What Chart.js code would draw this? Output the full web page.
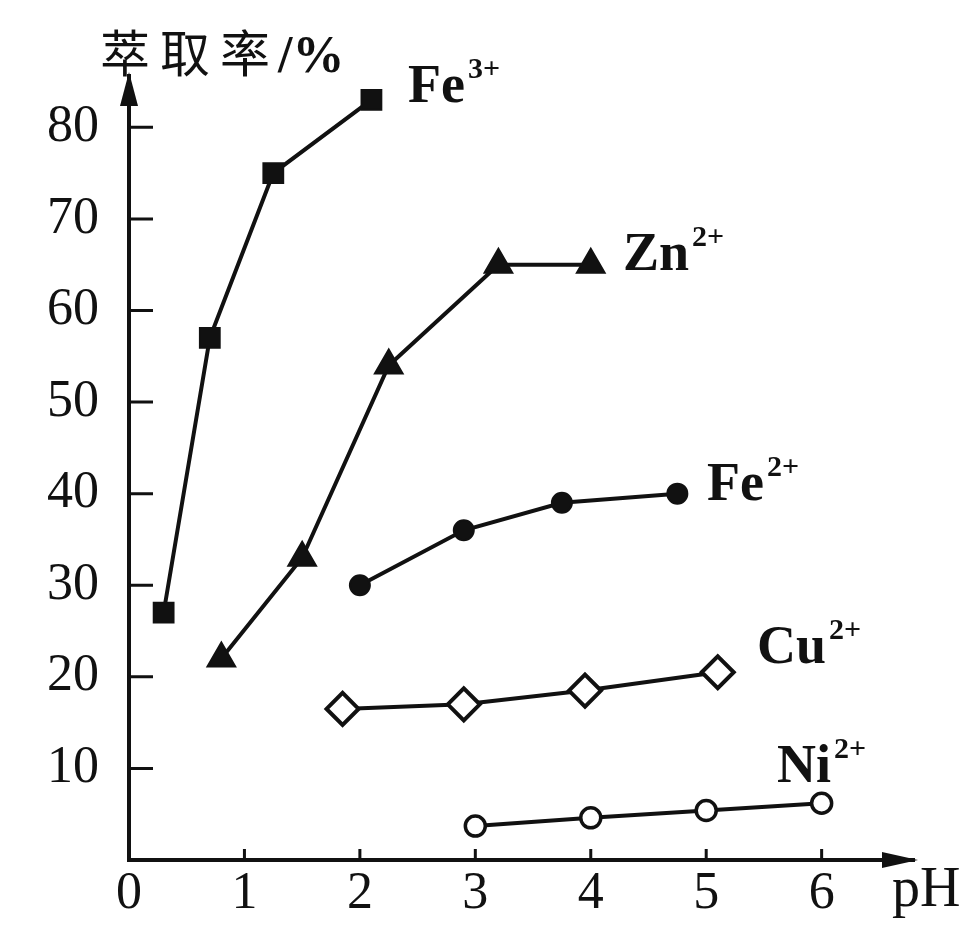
<!DOCTYPE html>
<html>
<head>
<meta charset="utf-8">
<script src="https://cdn.jsdelivr.net/npm/chart.js@4.4.1/dist/chart.umd.min.js"></script>
<style>
  html, body { margin: 0; padding: 0; background: #fff; }
  canvas { display: block; }
</style>
</head>
<body>
<canvas id="chartExtraction" width="970" height="934"></canvas>
<script>
// pH and extraction rate (%) for each ion
const phFe3 = [0.3, 0.7, 1.25, 2.1];
const rateFe3 = [27, 57, 75, 83];
const phZn = [0.8, 1.5, 2.25, 3.2, 4.0];
const rateZn = [22, 33, 54, 65, 65];
const phFe2 = [2.0, 2.9, 3.75, 4.75];
const rateFe2 = [30, 36, 39, 40];
const phCu = [1.85, 2.9, 3.95, 5.1];
const rateCu = [16.5, 17, 18.5, 20.5];
const phNi = [3, 4, 5, 6];
const rateNi = [3.7, 4.6, 5.4, 6.2];

const xTicks = [0, 1, 2, 3, 4, 5, 6];
const yTicks = [10, 20, 30, 40, 50, 60, 70, 80];
const ionNames = ["Fe", "Zn", "Fe", "Cu", "Ni"];
const ionCharges = ["3+", "2+", "2+", "2+", "2+"];
const yTitle = "萃取率";
const yUnit = "/%";
const xTitle = "pH";

// where each ion label sits (left x, baseline y)
const ionLabelPos = [[408, 102], [623, 270], [707, 500], [757, 663], [777, 782]];

const ink = "#111";
const serif = '"Liberation Serif", "DejaVu Serif", serif';

function toPoints(xs, ys) {
  return xs.map((v, i) => ({ x: v, y: ys[i] }));
}

function series(xs, ys, style, radius, fill, bw) {
  return {
    data: toPoints(xs, ys),
    borderColor: ink,
    borderWidth: 4,
    tension: 0,
    showLine: true,
    clip: false,
    pointStyle: style,
    pointRadius: radius,
    pointHoverRadius: radius,
    pointBackgroundColor: fill,
    pointBorderColor: ink,
    pointBorderWidth: bw,
  };
}

const axisDecor = {
  id: "axisDecor",
  afterDraw(chart) {
    const { ctx, chartArea: a, scales } = chart;
    const x = scales.x, y = scales.y;
    ctx.save();
    ctx.strokeStyle = ink;
    ctx.fillStyle = ink;
    ctx.lineWidth = 3;

    // inward tick marks
    ctx.beginPath();
    yTicks.forEach(v => {
      const py = y.getPixelForValue(v);
      ctx.moveTo(a.left, py);
      ctx.lineTo(a.left + 24, py);
    });
    xTicks.slice(1).forEach(v => {
      const px = x.getPixelForValue(v);
      ctx.moveTo(px, a.bottom);
      ctx.lineTo(px, a.bottom - 11);
    });
    ctx.stroke();

    // arrow heads
    ctx.beginPath();
    ctx.moveTo(a.left, a.top - 4);
    ctx.lineTo(a.left - 9, a.top + 30);
    ctx.lineTo(a.left + 9, a.top + 30);
    ctx.closePath();
    ctx.fill();
    ctx.beginPath();
    ctx.moveTo(a.right + 4, a.bottom);
    ctx.lineTo(a.right - 32, a.bottom - 8);
    ctx.lineTo(a.right - 32, a.bottom + 8);
    ctx.closePath();
    ctx.fill();

    // axis titles
    ctx.textAlign = "left";
    ctx.textBaseline = "alphabetic";
    ctx.font = '50px "Noto Sans CJK SC"';
    ctx.letterSpacing = "10px";
    ctx.fillText(yTitle, 100, 72);
    const tw = ctx.measureText(yTitle).width;
    ctx.letterSpacing = "0px";
    ctx.font = "bold 52px " + serif;
    ctx.fillText(yUnit, 98 + tw, 72);
    ctx.font = "56px " + serif;
    ctx.fillText(xTitle, 892, 906);

    // ion labels with superscript charges
    ionNames.forEach((name, i) => {
      const [lx, ly] = ionLabelPos[i];
      ctx.font = "bold 54px " + serif;
      ctx.fillText(name, lx, ly);
      const w = ctx.measureText(name).width;
      ctx.font = "bold 30px " + serif;
      ctx.fillText(ionCharges[i], lx + w + 3, ly - 24);
    });
    ctx.restore();
  }
};

new Chart(document.getElementById("chartExtraction"), {
  type: "line",
  data: {
    datasets: [
      series(phFe3, rateFe3, "rect", 14, ink, 2),
      series(phZn, rateZn, "triangle", 16, ink, 2),
      series(phFe2, rateFe2, "circle", 10, ink, 2),
      series(phCu, rateCu, "rectRot", 16, "#fff", 4),
      series(phNi, rateNi, "circle", 10, "#fff", 3.5),
    ],
  },
  options: {
    responsive: false,
    animation: false,
    events: [],
    layout: { padding: { top: 76, right: 56, bottom: 0, left: 0 } },
    plugins: {
      legend: { display: false },
      tooltip: { enabled: false },
    },
    scales: {
      x: {
        type: "linear",
        min: 0,
        max: 6.8,
        grid: { display: false, drawTicks: false },
        border: { display: true, color: ink, width: 4 },
        ticks: {
          autoSkip: false,
          maxRotation: 0,
          padding: 3,
          color: ink,
          font: { family: serif, size: 52 },
        },
        afterBuildTicks(s) { s.ticks = xTicks.map(v => ({ value: v })); },
        afterFit(s) { s.height = 74; },
      },
      y: {
        type: "linear",
        min: 0,
        max: 85.6,
        grid: { display: false, drawTicks: false },
        border: { display: true, color: ink, width: 4 },
        ticks: {
          autoSkip: false,
          padding: 30,
          color: ink,
          font: { family: serif, size: 52 },
        },
        afterBuildTicks(s) { s.ticks = yTicks.map(v => ({ value: v })); },
        afterFit(s) { s.width = 129; },
      },
    },
  },
  plugins: [axisDecor],
});
</script>
</body>
</html>
